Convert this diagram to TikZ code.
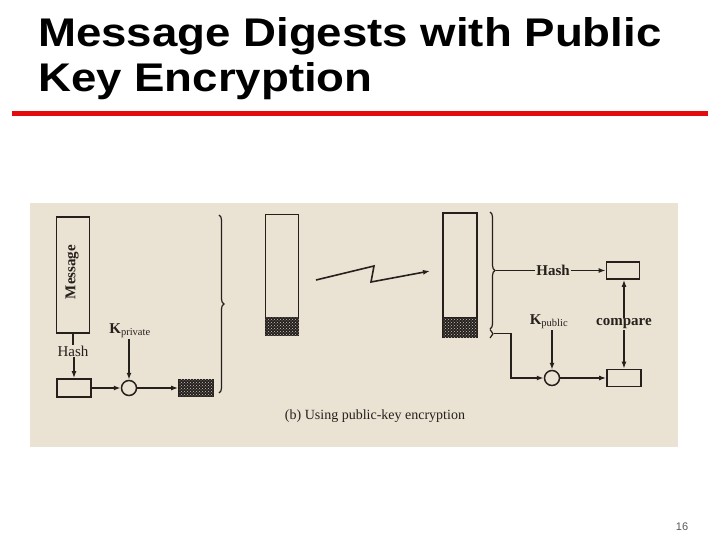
\documentclass[tikz,border=0pt]{standalone}
\usepackage{fontspec}
\setmainfont{Liberation Serif}
\newfontfamily\titlefont[FakeStretch=1.14]{Liberation Sans}
\newfontfamily\slidefont{Liberation Sans}
\usetikzlibrary{arrows.meta,decorations.pathreplacing,patterns}

\definecolor{scanbg}{RGB}{234,227,212}
\definecolor{ink}{RGB}{38,32,28}
\definecolor{slidered}{RGB}{228,12,12}

\tikzset{
	box/.style={draw=ink, line width=1.7pt, inner sep=0pt},
	digest/.style={box, fill=ink, postaction={pattern=crosshatch dots, pattern color=gray!45}},
	disc/.style={draw=ink, line width=1.5pt, circle, minimum size=15, inner sep=0pt},
	lbl/.style={text=ink, inner sep=1pt, font=\bfseries\fontsize{15}{15}\selectfont},
	wire/.style={draw=ink, line width=1.6pt},
	arr/.style={wire, -{Latex[length=7pt,width=5pt]}},
	brace/.style={draw=ink, line width=1.2pt, decorate, decoration={brace, amplitude=5pt}}
}

\begin{document}
\begin{tikzpicture}[x=1pt,y=-1pt]
	\useasboundingbox (0,0) rectangle (720,540);
	
	% slide title
	\node[anchor=base west, inner sep=0, font=\titlefont\bfseries\fontsize{40}{40}\selectfont] (titleA) at (38,47) {Message Digests with Public};
	\node[anchor=base west, inner sep=0, font=\titlefont\bfseries\fontsize{40}{40}\selectfont] (titleB) at (38,92) {Key Encryption};
	\draw[slidered, line width=5pt] (12,113.5) -- (708,113.5);
	
	% scanned figure
	\fill[scanbg] (30,203) rectangle (678,447);
	
	% sender side
	\node[box, minimum width=33, minimum height=116] (msg) at (73,275) {};
	\node[lbl, rotate=90] (msgtxt) at (72,272) {Message};
	\node[lbl, font=\fontsize{15}{15}\selectfont] (hashA) at (73,351) {Hash};
	\node[box, minimum width=34, minimum height=18] (hbA) at (74,388) {};
	\node[disc] (encA) at (129,388) {};
	\node[lbl] (kpriv) at (130,331) {K\textsubscript{\mdseries private}};
	\node[digest, minimum width=34, minimum height=17] (sigA) at (196,388) {};
	
	\draw[wire] (msg.south) -- (msg.south |- hashA.north);
	\draw[arr] (hbA.north |- hashA.south) -- (hbA.north);
	\draw[arr] (hbA) -- (encA);
	\draw[arr] (encA.north |- kpriv.south) -- (encA.north);
	\draw[arr] (encA) -- (sigA);
	\draw[brace] (219,215) -- (219,393);
	
	% sent message
	\node[box, minimum width=33, minimum height=121] (sendM) at (282,275) {};
	\node[digest, minimum width=33, minimum height=18, anchor=south] (sendD) at (sendM.south) {};
	\coordinate (zapA) at (316,280);
	\coordinate (zapB) at (374,266);
	\coordinate (zapC) at (371,282);
	\coordinate (zapD) at (430,271);
	\draw[arr] (zapA) -- (zapB) -- (zapC) -- (zapD);
	\node[box, minimum width=34, minimum height=124] (recvM) at (460,275) {};
	\node[digest, minimum width=34, minimum height=19, anchor=south] (recvD) at (recvM.south) {};
	\node[text=ink, font=\fontsize{14}{14}\selectfont] (capt) at (375,416) {(b) Using public-key encryption};
	
	% receiver side
	\draw[brace] (490,212) -- (490,329);
	\draw[brace, decoration={amplitude=3pt}] (490,329.5) -- (490,338);
	\coordinate (tipB) at (496,270.5);
	\coordinate (tipC) at (494,333.5);
	\node[lbl] (hashB) at (553,270.5) {Hash};
	\node[box, minimum width=33, minimum height=17] (hbB) at (623,270.5) {};
	\node[lbl] (kpub) at (549,322) {K\textsubscript{\mdseries public}};
	\node[disc] (decB) at (552,378) {};
	\node[box, minimum width=34, minimum height=17] (dbB) at (624,378) {};
	\node[lbl] (cmp) at (624,324) {compare};
	
	\draw[wire] (tipB) -- (hashB);
	\draw[arr] (hashB) -- (hbB);
	\draw[arr] (cmp.north) -- (cmp.north |- hbB.south);
	\draw[arr] (cmp.south) -- (cmp.south |- dbB.north);
	\draw[arr] (decB.north |- kpub.south) -- (decB.north);
	\draw[arr] (tipC) -- ++(17,0) |- (decB);
	\draw[arr] (decB) -- (dbB);
	
	% page number
	\node[font=\slidefont\fontsize{11}{11}\selectfont, text=gray!70!black] (pagenum) at (682,527) {16};
\end{tikzpicture}
\end{document}
